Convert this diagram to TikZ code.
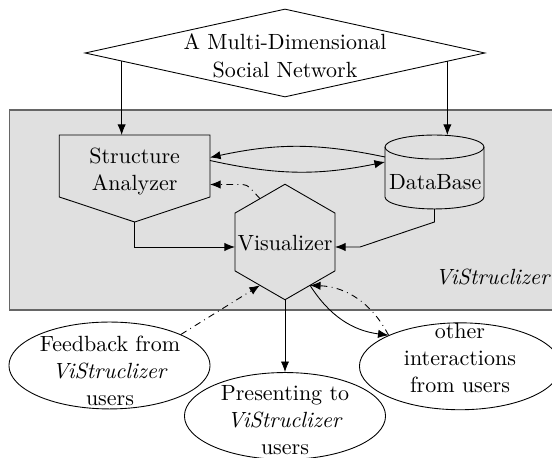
\documentclass[tikz,border=0pt]{standalone}
\usetikzlibrary{shapes.geometric,arrows.meta,calc}
\begin{document}
\begin{tikzpicture}[x=0.4545pt,y=-0.4545pt,
  font=\fontsize{10}{12.4}\selectfont,
  arr/.style={-{Latex[length=4.8pt,width=3.8pt]}},
  ell/.style={draw, ellipse, minimum width=91.4pt, minimum height=39.5pt, inner sep=0pt},
  txt/.style={align=center, inner sep=0pt},
  hidden/.style={inner sep=0pt, outer sep=0pt}]
\useasboundingbox (0,0) rectangle (552,458);
\clip (0,0) rectangle (552,458);
% system box
\node[draw=black!60, line width=0.6pt, fill=black!12, minimum width=250.4pt, minimum height=90.9pt, anchor=north west, inner sep=0pt] (sys) at (9,109.5) {};
\node[font=\itshape, inner sep=0pt] (lab) at (492.4,277.4) {ViStruclizer};
% diamond
\node[draw, diamond, minimum width=181.8pt, minimum height=40pt, inner sep=0pt] (dm) at (285,53) {};
\node[txt] (dmt) at (285,56) {A Multi-Dimensional\\Social Network};
% structure analyzer
\node[hidden, minimum width=68.5pt, minimum height=39.55pt] (sa) at (134.65,178.5) {};
\draw (sa.north west) -- (sa.north east) -- ($(sa.north east)+(0,62)$) -- (sa.south) -- ($(sa.north west)+(0,62)$) -- cycle;
\node[txt] (sat) at (134.7,171.5) {Structure\\Analyzer};
% database
\node[hidden, minimum width=45pt, minimum height=33.6pt] (db) at (434.5,172) {};
\draw ($(db.north west)+(0,12)$) -- ($(db.south west)+(0,-12)$) arc[start angle=180, end angle=0, x radius=49.5, y radius=12] -- ($(db.north east)+(0,12)$);
\draw ($(db.north)+(0,12)$) ellipse[x radius=49.5, y radius=12];
\node[txt] (dbt) at (435.2,182.5) {DataBase};
% visualizer
\node[draw, regular polygon, regular polygon sides=6, shape border rotate=30, minimum size=52.5pt, inner sep=0pt, outer sep=0pt] (vis) at (285,242) {};
\node[txt] (vist) at (285,243.5) {Visualizer};
% ellipses
\node[ell] (fb) at (109.5,365.5) {};
\node[txt] (fbt) at (110,371) {Feedback from\\\textit{ViStruclizer}\\users};
\node[ell] (pr) at (285,416) {};
\node[txt] (prt) at (285,420) {Presenting to\\\textit{ViStruclizer}\\users};
\node[ell] (ot) at (460,366.3) {};
\node[txt] (ott) at (460,358) {other\\interactions\\from users};
% connectors
\coordinate (d1) at ($(dm.west)!0.185!(dm.south)$);
\coordinate (d2) at ($(dm.east)!0.19!(dm.south)$);
\draw[arr] (d1) -- (d1 |- sa.north);
\draw[arr] (d2) -- (d2 |- db.north);
\draw[arr] ($(db.west)+(0,-15)$) to[bend right=12] ($(sa.east)+(0,-21)$);
\draw[arr] ($(sa.east)+(0,-18)$) to[bend right=12] ($(db.west)+(0,-10)$);
\draw[arr] (sa.south) |- ($(vis.west)+(0,5)$);
\draw[arr] (db.south) -- ++(0,13) -- ($(vis.east)+(25,5)$) -- ($(vis.east)+(0,5)$);
\draw[arr, dash dot, rounded corners=2pt] (vis.120) -- ($(sa.east)+(37,6)$) -- ($(sa.east)+(0,6)$);
\draw[arr, dash dot] (fb.north east) -- (vis.240);
\draw[arr] (vis.south) -- (pr.north);
\draw[arr] (vis.300) to[bend right=25] (ot.north west);
\draw[arr, dash dot] (ot.north west) to[bend right=30] (vis.300);
\end{tikzpicture}
\end{document}
